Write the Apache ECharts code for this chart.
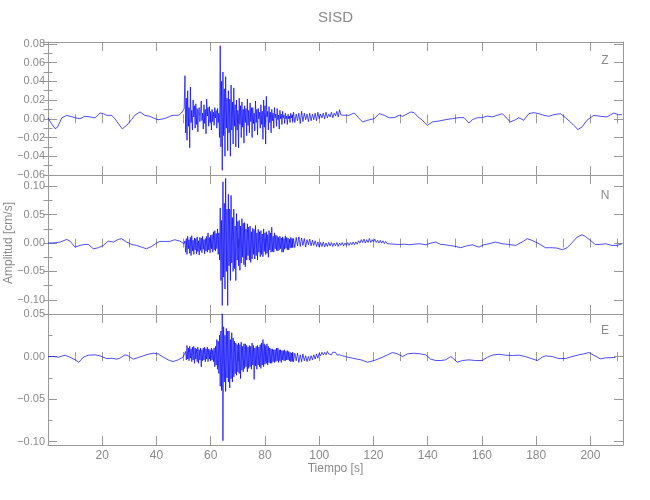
<!DOCTYPE html>
<html><head><meta charset="utf-8">
<script src="https://cdn.jsdelivr.net/npm/echarts@6.0.0/dist/echarts.min.js"></script>
<style>html,body{margin:0;padding:0;background:#fff}#c{width:650px;height:500px}</style>
</head><body><div id="c"></div>
<script>
// ---- data ----
const xMin = 0, xMax = 212;
const xTickLabels = [20, 40, 60, 80, 100, 120, 140, 160, 180, 200];
const zTicks = [-0.06, -0.04, -0.02, 0, 0.02, 0.04, 0.06, 0.08];
const nTicks = [-0.10, -0.05, 0, 0.05, 0.10];
const eTicks = [-0.10, -0.05, 0, 0.05];
const componentNames = ['Z', 'N', 'E'];
// sampling of the strong-motion windows (s)
const burst1Start = 50.5, burst1Dt = 0.25;
const burst2Start = 90.5, burst2Dt = 0.5;

const zPre = [[0,0.001],[1,-0.004],[2.6,-0.0105],[3.5,-0.009],[5.1,0.001],[6.9,0.0037],[8.1,0.0027],[10,0.0012],[11.8,0.0],[13.6,0.0027],[15.5,0.002],[17.3,0.001],[19.2,0.0062],[20.4,0.0055],[21.6,0.0037],[23.5,0.0037],[24.7,0.0],[25.9,-0.005],[27.4,-0.0108],[29,-0.0069],[30.8,-0.001],[32,0.0037],[33.9,0.0073],[35.7,0.0037],[37.5,0.0027],[38.8,0.001],[40.6,-0.001],[42.5,0.0],[43.7,0.001],[44.9,0.0027],[46.1,0.0037],[48,0.0037],[49.2,0.0062],[50.2,0.0108]];
const zBurst1 = [
 0.046,-0.015,0.022,-0.023,0.030,-0.008,0.012,-0.031,
 0.034,-0.004,0.009,-0.012,0.020,0.002,0.014,-0.010,
 0.016,-0.006,0.011,-0.014,0.008,0.012,-0.003,0.007,
 0.019,-0.002,0.006,-0.011,0.015,-0.005,0.010,-0.016,
 0.021,0.003,0.012,-0.008,0.013,-0.004,0.008,-0.012,
 0.010,-0.003,0.007,-0.007,0.012,0.001,0.009,-0.010,
 0.011,-0.004,0.006,-0.020,0.078,-0.030,0.040,-0.055,
 0.050,-0.018,0.032,-0.040,0.045,-0.010,0.022,-0.034,
 0.030,-0.015,0.021,-0.040,0.036,-0.012,0.018,-0.027,
 0.033,-0.008,0.015,-0.030,0.020,-0.012,0.009,-0.031,
 0.022,-0.006,0.014,-0.020,0.018,-0.009,0.010,-0.026,
 0.014,-0.004,0.011,-0.018,0.021,-0.007,0.009,-0.015,
 0.017,-0.003,0.012,-0.020,0.012,-0.005,0.006,-0.013,
 0.019,-0.004,0.010,-0.017,0.011,0.000,0.007,-0.010,
 0.015,-0.006,0.008,-0.022,0.020,-0.009,0.014,-0.027,
 0.024,0.002,0.008,-0.012,0.013,-0.004,0.007,-0.015,
 0.010,-0.002,0.006,-0.010,0.012,0.001,0.005,-0.008,
 0.011,-0.001,0.004,-0.011,0.009,0.000,0.005,-0.006,
 0.008,0.001,0.004,-0.005,0.006,0.000,0.003,-0.006,
 0.005,0.000,0.003,-0.004,0.006,0.001,0.004,-0.003];
const zBurst2 = [
 0.007,-0.004,0.005,-0.002,0.006,-0.005,0.008,-0.003,0.006,-0.001,
 0.005,-0.003,0.006,-0.002,0.005,-0.001,0.006,-0.002,0.007,0.000,
 0.005,0.001,0.006,0.000,0.007,0.001,0.005,0.002,0.007,0.001,
 0.006,0.003,0.008,0.002,0.0098,0.004];
const zPost = [[108.6,0.0055],[111,0.0037],[112.9,0.0062],[114.8,0.0002],[116,-0.0034],[117.8,-0.0016],[120.3,0.0002],[122.1,0.0055],[124,0.0037],[125.8,0.0012],[127.6,0.0012],[129.5,0.0037],[130.7,0.0027],[131.9,0.0044],[133.8,0.0073],[135,0.0066],[136.2,0.0027],[138,-0.0016],[139.9,-0.0069],[141.7,-0.0034],[144.2,-0.0023],[146.6,-0.0009],[149.1,0.0002],[151.5,0.0012],[153.4,0.0012],[155.2,-0.0044],[156.5,-0.0009],[158.3,0.0012],[160.1,0.0012],[162,0.003],[163.8,0.002],[165.6,0.0037],[167.5,0.0055],[168.7,0.002],[170.5,-0.0034],[172.4,-0.0009],[173.6,0.0012],[175.4,-0.0016],[177.3,0.0055],[179.1,0.0066],[181,0.0055],[182.8,0.0037],[184.6,0.0027],[186.5,0.0044],[188.9,0.0055],[190.8,0.0012],[192.6,-0.0034],[193.8,-0.0069],[195.4,-0.0115],[196.9,-0.0087],[198.7,-0.0016],[201.2,0.0037],[203.6,0.0027],[206.1,0.002],[208.6,0.0062],[210.4,0.0044],[211.6,0.0044]];

const nPre = [[0,0],[2.6,0.0005],[4.5,0.0018],[6.9,0.0065],[8.1,0.0035],[10,-0.0071],[11.8,-0.0041],[13.6,-0.0024],[14.9,-0.0024],[16.7,-0.010],[18.6,-0.0082],[20.4,-0.0041],[22.2,0.0035],[24.1,0.0018],[25.9,0.0065],[27.1,0.0077],[29,0.0018],[30.8,-0.0024],[32.6,-0.0041],[34.5,-0.0071],[36.3,-0.010],[38.2,-0.0059],[40,0],[41.2,0.0029],[43.1,0.0029],[44.9,0.0029],[46.7,0.0059],[48.6,0.0035],[50.2,-0.0012]];
const nBurst1 = [
 0.004,-0.016,0.008,-0.020,0.012,-0.010,0.006,-0.018,
 0.010,-0.022,0.013,-0.014,0.005,-0.020,0.009,-0.012,
 0.008,-0.019,0.011,-0.015,0.004,-0.021,0.010,-0.013,
 0.009,-0.017,0.012,-0.011,0.006,-0.019,0.008,-0.014,
 0.012,-0.016,0.018,-0.012,0.010,-0.017,0.014,-0.010,
 0.015,-0.016,0.020,-0.012,0.022,-0.014,0.017,-0.010,
 0.025,-0.020,0.018,-0.030,0.062,-0.066,0.040,-0.110,
 0.108,-0.060,0.070,-0.081,0.114,-0.050,0.060,-0.110,
 0.086,-0.040,0.060,-0.066,0.084,-0.035,0.045,-0.050,
 0.060,-0.045,0.030,-0.066,0.052,-0.030,0.038,-0.040,
 0.040,-0.048,0.030,-0.035,0.043,-0.025,0.035,-0.038,
 0.036,-0.042,0.025,-0.030,0.034,-0.022,0.028,-0.030,
 0.030,-0.034,0.020,-0.028,0.026,-0.020,0.024,-0.028,
 0.031,-0.022,0.018,-0.030,0.024,-0.016,0.020,-0.024,
 0.022,-0.020,0.016,-0.024,0.025,-0.015,0.018,-0.020,
 0.020,-0.018,0.015,-0.025,0.022,-0.012,0.018,-0.016,
 0.028,-0.015,0.012,-0.016,0.018,-0.010,0.014,-0.013,
 0.013,-0.014,0.010,-0.012,0.012,-0.010,0.009,-0.016,
 0.011,-0.016,0.008,-0.011,0.013,-0.009,0.010,-0.012,
 0.009,-0.012,0.007,-0.009,0.010,-0.008,0.008,-0.008];
const nBurst2 = [
 0.008,-0.008,0.010,-0.005,0.011,-0.006,0.009,-0.004,0.008,-0.007,
 0.006,-0.003,0.007,-0.005,0.005,-0.004,0.004,-0.006,0.002,-0.007,
 0.001,-0.006,0.002,-0.007,0.000,-0.006,0.001,-0.005,0.001,-0.006,
 0.000,-0.005,0.001,-0.006,0.000,-0.004,0.001,-0.005,0.000,-0.004,
 0.001,-0.004,0.001,-0.003,0.002,-0.003,0.002,-0.002,0.004,0.000,
 0.006,0.001,0.007,0.000,0.006,0.001,0.008,0.001,0.006,0.002,
 0.007,0.001,0.005,0.000,0.005,0.000,0.004,-0.001,0.003,-0.001];
const nPost = [[125.8,-0.0012],[127.5,-0.002],[129.5,-0.0024],[131.5,-0.002],[133.2,-0.003],[135,-0.002],[136.8,-0.0012],[138,-0.002],[139.3,-0.003],[140.5,-0.001],[141.7,0.0006],[143,0.0018],[144.8,-0.0024],[146.5,-0.003],[147.9,-0.0041],[150.3,-0.0059],[152.2,-0.0082],[154,-0.0053],[156.5,-0.003],[158.9,-0.0071],[160.7,-0.003],[162.6,-0.0012],[165,0.0018],[167.5,-0.0012],[169.9,-0.0024],[172.4,-0.0041],[174.8,0.0018],[176.7,0.0077],[178.5,0.0047],[181,-0.0012],[183.4,-0.0082],[185.9,-0.0082],[187.7,-0.0088],[189.6,-0.0118],[191.4,-0.0082],[193.2,0.0006],[195.1,0.0106],[196.9,0.0147],[198.1,0.0118],[200,0.0047],[201.8,-0.0024],[203.6,-0.0024],[205.5,-0.0012],[207.9,-0.0041],[209.8,-0.0041],[211.6,-0.0012]];

const ePre = [[0,0],[2,0],[3.8,-0.0008],[6.3,0.0016],[8.1,-0.0008],[10,-0.0039],[11.4,-0.0067],[13,-0.0008],[14.9,0.0016],[17.3,0.002],[19.2,0.0008],[21.6,-0.0024],[23.5,-0.002],[25.3,-0.0031],[26.5,-0.002],[28.4,0.002],[29.6,0.0008],[31.4,-0.0031],[33.3,-0.0012],[35.1,0.0008],[37,0.0027],[38.8,0.0039],[40.6,0.0031],[42.5,-0.0008],[44.3,-0.0039],[46.1,-0.0059],[48,-0.0039],[49.8,-0.0008]];
const eBurst1 = [
 -0.002,0.006,-0.004,0.013,-0.003,0.010,-0.005,0.012,
 -0.002,0.009,-0.006,0.011,-0.004,0.012,-0.008,0.010,
 -0.003,0.009,-0.006,0.011,-0.008,0.008,-0.004,0.010,
 -0.012,0.008,-0.005,0.010,-0.004,0.011,-0.006,0.009,
 -0.003,0.011,-0.006,0.009,-0.003,0.008,-0.005,0.010,
 -0.004,0.008,-0.006,0.010,-0.012,0.012,-0.010,0.020,
 -0.015,0.018,-0.020,0.025,-0.035,0.030,-0.040,0.051,
 -0.099,0.035,-0.030,0.025,-0.041,0.033,-0.025,0.030,
 -0.030,0.030,-0.037,0.020,-0.026,0.028,-0.030,0.022,
 -0.024,0.018,-0.020,0.016,-0.022,0.014,-0.018,0.016,
 -0.020,0.014,-0.026,0.017,-0.016,0.012,-0.018,0.015,
 -0.014,0.015,-0.012,0.013,-0.018,0.011,-0.014,0.013,
 -0.012,0.012,-0.015,0.016,-0.010,0.013,-0.027,0.010,
 -0.011,0.012,-0.015,0.013,-0.010,0.011,-0.012,0.014,
 -0.014,0.016,-0.010,0.020,-0.012,0.015,-0.009,0.013,
 -0.008,0.015,-0.010,0.012,-0.007,0.010,-0.008,0.009,
 -0.008,0.009,-0.006,0.008,-0.007,0.008,-0.006,0.010,
 -0.005,0.010,-0.007,0.008,-0.005,0.008,-0.007,0.007,
 -0.004,0.007,-0.005,0.008,-0.005,0.006,-0.004,0.007,
 -0.004,0.006,-0.005,0.005,-0.006,0.004,-0.006,0.005];
const eBurst2 = [
 -0.006,0.004,-0.005,0.004,-0.007,0.002,-0.006,0.003,-0.005,0.001,
 -0.006,0.000,-0.005,0.001,-0.004,0.002,-0.003,0.003,-0.002,0.004,
 0.001,0.005,0.002,0.005,0.002,0.006,0.003,0.005,0.002,0.005,
 0.003,0.005,0.002,0.004,0.002,0.003,0.001,0.002,0.000,-0.001];
const ePost = [[112.3,-0.002],[115.4,-0.0039],[117.8,-0.0067],[120.3,-0.0047],[123.3,-0.0008],[125.2,0.002],[127,0.0047],[128.9,0.0031],[130.7,0],[132.5,0.0031],[135,0.0039],[137.4,0.0031],[139.3,0.002],[141.1,-0.0031],[143,-0.0047],[144.8,-0.0047],[146.6,-0.0039],[148.5,0],[149.7,-0.0031],[150.9,-0.0067],[152.8,-0.0047],[155.2,-0.0039],[157.7,-0.0047],[160.1,-0.0047],[162,-0.0008],[163.8,0.0016],[166.3,0.0027],[168.7,0.0016],[171.2,0.0012],[173.6,0.0016],[176,0],[178.5,-0.0027],[180.4,-0.0047],[182.2,-0.0008],[183.4,0.0008],[185.9,0],[188.3,-0.0024],[190.8,-0.0024],[193.2,0],[195.7,0.002],[197.5,0.0031],[199.4,0.0047],[201.2,0.0016],[203.6,-0.0027],[205.5,-0.0016],[208.6,-0.0012],[209.2,-0.0012]];

// ---- build ----
function build(pre, b1, b2, post) {
  const d = pre.map(p => [p[0], p[1]]);
  b1.forEach((v, i) => d.push([+(burst1Start + i * burst1Dt).toFixed(2), v]));
  b2.forEach((v, i) => d.push([+(burst2Start + i * burst2Dt).toFixed(2), v]));
  post.forEach(p => d.push([p[0], p[1]]));
  return d;
}
const traces = [build(zPre, zBurst1, zBurst2, zPost), build(nPre, nBurst1, nBurst2, nPost), build(ePre, eBurst1, eBurst2, ePost)];

const AX = '#9a9a9a', TX = '#8a8a8a';
const FONT = "'Liberation Sans', Arial, sans-serif";
const L = 48, R = 650 - 623;
const panels = [
  {top: 42,  height: 133, min: -0.06,  max: 0.082, major: {interval: 0.02}, minor: 0.01, ticks: zTicks},
  {top: 175, height: 139, min: -0.125, max: 0.12,  major: {splitNumber: 5}, minor: 0.025, ticks: nTicks},
  {top: 314, height: 131, min: -0.104, max: 0.05,  major: {splitNumber: 3}, minor: null, ticks: eTicks}
];
function near(list, v, eps) { return list.some(t => Math.abs(t - v) < eps); }
function fmtY(v) { if (Math.abs(v) < 1e-9) return '0.00'; return v.toFixed(2).replace('-', '\u2212'); }

const grid = [], xAxis = [], yAxis = [], series = [];
panels.forEach((p, i) => {
  grid.push({left: L, right: R, top: p.top, height: p.height, containLabel: false});
  ['bottom', 'top'].forEach(pos => {
    const showLab = (pos === 'bottom' && i === 2);
    xAxis.push({type: 'value', gridIndex: i, position: pos, min: xMin, max: xMax, interval: 20,
      axisLine: {show: true, onZero: false, lineStyle: {color: AX, width: 1}},
      axisTick: {show: true, inside: true, length: 9, lineStyle: {color: AX}},
      axisLabel: {show: showLab, margin: 5, fontSize: 12, color: TX, fontFamily: FONT,
        formatter: v => near(xTickLabels, v, 1e-6) ? String(v) : ''},
      splitLine: {show: false},
      name: showLab ? 'Tiempo [s]' : '', nameLocation: 'middle', nameGap: 18,
      nameTextStyle: {fontSize: 12, color: TX, fontFamily: FONT}});
    xAxis.push({type: 'value', gridIndex: i, position: pos, min: xMin, max: xMax, interval: 10,
      axisLine: {show: false}, axisTick: {show: true, inside: true, length: 4.5, lineStyle: {color: AX}},
      axisLabel: {show: false}, splitLine: {show: false}});
  });
  const yIdx = yAxis.length;
  ['left', 'right'].forEach(pos => {
    const y = Object.assign({type: 'value', gridIndex: i, position: pos, min: p.min, max: p.max,
      axisLine: {show: true, onZero: false, lineStyle: {color: AX, width: 1}},
      axisTick: {show: true, inside: true, length: 9, lineStyle: {color: AX}},
      axisLabel: {show: pos === 'left', margin: 3, fontSize: 11, color: TX, fontFamily: FONT,
        formatter: v => near(p.ticks, v, 1e-7) ? fmtY(v) : ''},
      splitLine: {show: false}}, p.major);
    if (!p.minor) y.minorTick = {show: true, splitNumber: 2, length: 4.5, lineStyle: {color: AX}};
    yAxis.push(y);
    if (p.minor) yAxis.push({type: 'value', gridIndex: i, position: pos, min: p.min, max: p.max, interval: p.minor,
      axisLine: {show: false}, axisTick: {show: true, inside: true, length: 4.5, lineStyle: {color: AX}},
      axisLabel: {show: false}, splitLine: {show: false}});
  });
  series.push({type: 'line', name: componentNames[i], xAxisIndex: i * 4, yAxisIndex: yIdx,
    data: traces[i], showSymbol: false, symbol: 'none', sampling: null, clip: true,
    lineStyle: {color: '#0000ff', width: 0.7}, emphasis: {disabled: true}, silent: true});
});

const labelY = [61, 196, 331];
const graphic = [
  {type: 'text', x: 335.5, y: 18, style: {text: 'SISD', fill: TX, fontSize: 15, fontFamily: FONT,
    align: 'center', verticalAlign: 'middle', textAlign: 'center', textVerticalAlign: 'middle'}},
  {type: 'text', x: 8.5, y: 243, rotation: Math.PI / 2, style: {text: 'Amplitud [cm/s]', fill: TX, fontSize: 12, fontFamily: FONT,
    align: 'center', verticalAlign: 'middle', textAlign: 'center', textVerticalAlign: 'middle'}}
];
componentNames.forEach((c, i) => graphic.push({type: 'text', x: 605, y: labelY[i], style: {text: c, fill: TX, fontSize: 12, fontFamily: FONT,
  align: 'center', verticalAlign: 'middle', textAlign: 'center', textVerticalAlign: 'middle'}}));

const chart = echarts.init(document.getElementById('c'), null, {renderer: 'canvas'});
chart.setOption({animation: false, backgroundColor: '#fff', grid, xAxis, yAxis, series, graphic});
</script></body></html>
